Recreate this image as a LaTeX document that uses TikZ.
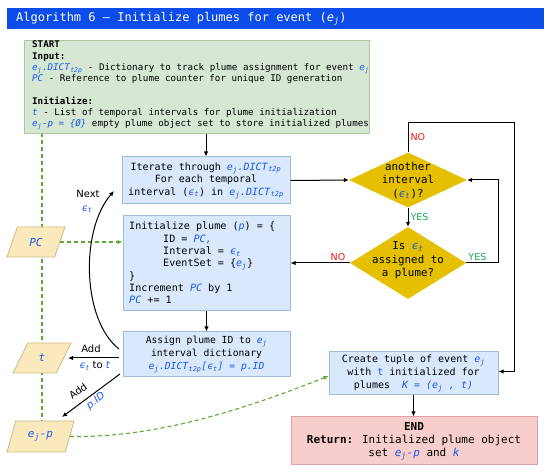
\documentclass[tikz,border=0pt]{standalone}
\usepackage{fontspec}
\setmainfont{DejaVu Sans Mono}
\newfontfamily\lblfont{DejaVu Sans}
\usetikzlibrary{shapes.geometric,arrows.meta}
\definecolor{titleblue}{RGB}{12,76,232}
\definecolor{tblue}{RGB}{22,90,235}
\definecolor{bfill}{RGB}{218,232,252}
\definecolor{bline}{RGB}{160,186,222}
\definecolor{gfill}{RGB}{214,232,212}
\definecolor{gline}{RGB}{172,200,162}
\definecolor{pfill}{RGB}{248,206,204}
\definecolor{pline}{RGB}{222,160,160}
\definecolor{gold}{RGB}{228,192,0}
\definecolor{parfill}{RGB}{250,233,188}
\definecolor{parline}{RGB}{205,186,128}
\definecolor{dgreen}{RGB}{92,172,50}
\definecolor{yesgreen}{RGB}{20,170,80}
\definecolor{nored}{RGB}{235,20,20}
\pgfdeclarelayer{bg}
\pgfsetlayers{bg,main}
\newcommand\ejraw{\textit{e}\textsubscript{\textit{j}}}
\newcommand\bl[1]{\textcolor{tblue}{\textit{#1}}}
\newcommand\ejx{\textcolor{tblue}{\ejraw}}
\newcommand\dictx{\textcolor{tblue}{\textit{DICT}\textsubscript{\textit{t2p}}}}
\newcommand\etx{\textcolor{tblue}{\textit{ϵ}\textsubscript{\textit{t}}}}
\begin{document}
\begin{tikzpicture}[x=1pt,y=-1pt,
  bbox/.style={draw=bline, fill=bfill, line width=1pt, inner sep=0pt, align=center},
  gbox/.style={draw=gline, fill=gfill, line width=1pt, inner sep=0pt},
  ebox/.style={draw=pline, fill=pfill, line width=1pt, inner sep=0pt, align=center},
  dia/.style={diamond, fill=gold, inner sep=0pt},
  para/.style={trapezium, trapezium left angle=66, trapezium right angle=114, trapezium stretches=true, draw=parline, fill=parfill, line width=0.8pt, inner sep=0pt, font=\fontsize{11}{13}\selectfont},
  txt/.style={inner sep=0pt, align=center},
  arr/.style={-{Latex[length=5pt,width=4.5pt]}, line width=1pt},
  gdash/.style={dgreen, line width=1.1pt, dash pattern=on 4pt off 3pt},
  garr/.style={gdash, -{Latex[length=5pt,width=4.5pt]}},
  yes/.style={text=yesgreen, font=\lblfont\fontsize{9.5}{11}\selectfont, inner sep=2pt},
  no/.style={text=nored, font=\lblfont\fontsize{9.5}{11}\selectfont, inner sep=2pt},
  lbl/.style={font=\lblfont\fontsize{10}{12}\selectfont, inner sep=0pt}
]
\useasboundingbox (0,0) rectangle (550,473);
% title
\node[fill=titleblue, minimum width=537pt, minimum height=21pt, inner sep=0pt, anchor=north west] (title) at (7,8) {};
\node[anchor=west, text=white, inner sep=0pt, font=\fontsize{12}{14}\selectfont] (titletxt) at (16,18.5) {Algorithm 6 – Initialize plumes for event (\ejraw)};
% start
\node[gbox, minimum width=345pt, minimum height=93pt, anchor=north west] (start) at (24,40) {};
\node[anchor=west, align=left, inner sep=0pt, font=\fontsize{9.2}{11.3}\selectfont] (starttxt) at (32,85.5) {\textbf{START}\\
\textbf{Input:}\\
\ejx\bl{.}\dictx{} - Dictionary to track plume assignment for event \ejx\\
\bl{PC} - Reference to plume counter for unique ID generation\\[11.3pt]
\textbf{Initialize:}\\
\bl{t} - List of temporal intervals for plume initialization\\
\bl{e\textsubscript{j}-p = \{Ø\}} empty plume object set to store initialized plumes};
% iterate
\node[bbox, minimum width=168pt, minimum height=47pt, font=\fontsize{10}{12.5}\selectfont] (iter) at (206,180.5) {Iterate through \ejx\bl{.}\dictx\\ For each temporal\\ interval (\etx) in \ejx\bl{.}\dictx};
% init plume
\node[bbox, minimum width=167pt, minimum height=95pt] (init) at (206.5,263.5) {};
\node[anchor=west, align=left, inner sep=0pt, font=\fontsize{10.1}{12.3}\selectfont] (inittxt) at (129,263) {Initialize plume (\bl{p}) = \{\\
\hspace*{34pt}ID = \bl{PC,}\\
\hspace*{34pt}Interval = \etx\\
\hspace*{34pt}EventSet = \{\ejx\}\\
\}\\
Increment \bl{PC} by 1\\
\bl{PC} += 1};
% assign
\node[bbox, minimum width=167pt, minimum height=45pt, font=\fontsize{9.7}{13}\selectfont] (assign) at (206.5,354.5) {Assign plume ID to \ejx\\ interval dictionary\\ \ejx\bl{.}\dictx\bl{[}\etx\bl{] = p.ID}};
% diamonds
\node[dia, minimum width=118pt, minimum height=55pt] (d1) at (408,180) {};
\node[txt, font=\fontsize{10.8}{13.5}\selectfont] (d1t) at (408,180.5) {another\\interval\\(\etx)?};
\node[dia, minimum width=116pt, minimum height=72pt] (d2) at (408,263) {};
\node[txt, font=\fontsize{10.8}{13.5}\selectfont] (d2t) at (408,260.5) {Is \etx\\assigned to\\a plume?};
% create and end
\node[bbox, minimum width=169pt, minimum height=43pt, font=\fontsize{10}{13}\selectfont] (create) at (413.5,373.5) {Create tuple of event \ejx\\ with \textcolor{tblue}{t} initialized for\\ plumes\ \ \bl{K = (}\ejx\bl{ , t)}};
\node[ebox, minimum width=246pt, minimum height=48pt, font=\fontsize{11}{13}\selectfont] (end) at (414,441) {\textbf{END}\\ \textbf{Return:} Initialized plume object\\ set \bl{e\textsubscript{j}-p} and \bl{k}};
% parallelograms
\node[para, minimum width=58pt, minimum height=30pt] (pc) at (36,242) {\bl{PC}};
\node[para, minimum width=58pt, minimum height=30pt] (t) at (42,358) {\bl{t}};
\node[para, minimum width=67pt, minimum height=31pt] (ejp) at (40.5,436.5) {\bl{e\textsubscript{j}-p}};
% green dashed
\coordinate (vtop) at (42,133);
\begin{pgfonlayer}{bg}
\draw[gdash] (vtop) -- (vtop |- ejp.north);
\end{pgfonlayer}
\draw[garr] (pc.east) -- (pc.east -| init.west);
\draw[garr] (ejp.east) .. controls (160,438) and (250,407) .. ([yshift=-2.5pt]create.west);
% main flow
\draw[arr] (start.south -| iter.north) -- (iter.north);
\draw[arr] (iter.east) -- (d1.west);
\draw[arr] (d1.south) -- node[yes, right] {YES} (d2.north);
\draw[arr] (d2.west) -- node[no, above, pos=0.2] {NO} (d2.west -| init.east);
\draw[arr] (d2.east) -- node[yes, above, pos=0.35] {YES} ++(32,0) |- (d1.east);
\draw[arr] (d1.north) -- node[no, right] {NO} ++(0,-30) -- ++(106,0) |- ([yshift=2pt]create.east);
\draw[arr] (init.south) -- (init.south |- assign.north);
\draw[arr] (create.south) -- (create.south |- end.north);
% left connectors
\coordinate (asw) at (119,349);
\coordinate (nextend) at (114,191);
\draw[arr] (asw) .. controls (82,320) and (80,230) .. (nextend);
\node[lbl] (nextlbl) at (88,194) {Next};
\node[lbl] (nextet) at (87,209) {\etx};
\draw[arr, shorten <=4pt, shorten >=4pt] (assign.west |- t.east) -- (t.east);
\node[lbl] (addt) at (91,349) {Add};
\node[lbl] (addt2) at (95,366) {\etx{} to \bl{t}};
\coordinate (pidstart) at (120,374);
\coordinate (pidend) at (62,417);
\draw[arr] (pidstart) -- (pidend);
\node[lbl, rotate=36.5] (addp) at (78,391) {Add};
\node[lbl, rotate=36.5] (addp2) at (96,401) {\bl{p.ID}};
\end{tikzpicture}
\end{document}
